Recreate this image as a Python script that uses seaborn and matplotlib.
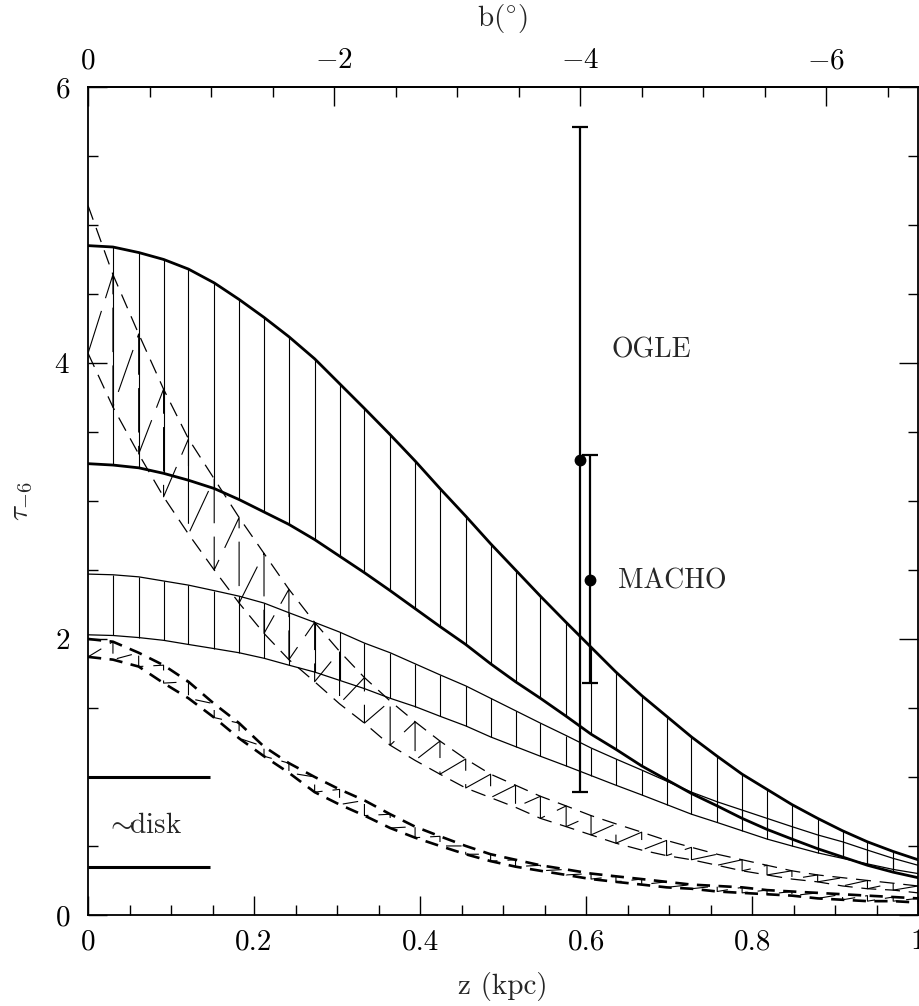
import numpy as np
import pandas as pd
import matplotlib
matplotlib.use("Agg")
import matplotlib.pyplot as plt
import seaborn as sns
from matplotlib.ticker import MultipleLocator, FixedLocator

# ---------------- data ----------------
z_grid = [0.000, 0.030, 0.061, 0.091, 0.121, 0.152, 0.182, 0.212, 0.242, 0.273,
          0.303, 0.333, 0.364, 0.394, 0.424, 0.455, 0.485, 0.515, 0.545, 0.576,
          0.606, 0.636, 0.667, 0.697, 0.727, 0.758, 0.788, 0.818, 0.848, 0.879,
          0.909, 0.939, 0.970, 1.000]

# thick solid band (upper / lower)
tau_thick_up = [4.85, 4.84, 4.80, 4.75, 4.68, 4.58, 4.46, 4.33, 4.19, 4.03,
                3.85, 3.67, 3.48, 3.29, 3.09, 2.89, 2.69, 2.50, 2.31, 2.12,
                1.94, 1.76, 1.59, 1.44, 1.29, 1.15, 1.02, 0.91, 0.80, 0.70,
                0.61, 0.53, 0.46, 0.40]
tau_thick_lo = [3.27, 3.26, 3.24, 3.20, 3.15, 3.09, 3.01, 2.92, 2.83, 2.72,
                2.60, 2.48, 2.35, 2.22, 2.09, 1.96, 1.82, 1.69, 1.57, 1.44,
                1.31, 1.20, 1.08, 0.98, 0.88, 0.79, 0.70, 0.62, 0.55, 0.48,
                0.42, 0.36, 0.31, 0.27]
# thin solid band
tau_thin_up = [2.47, 2.465, 2.45, 2.42, 2.39, 2.35, 2.31, 2.26, 2.19, 2.12,
               2.05, 1.97, 1.90, 1.82, 1.74, 1.66, 1.57, 1.48, 1.39, 1.30,
               1.21, 1.13, 1.05, 0.97, 0.89, 0.82, 0.76, 0.70, 0.64, 0.58,
               0.53, 0.47, 0.41, 0.36]
tau_thin_lo = [2.03, 2.025, 2.01, 1.99, 1.96, 1.93, 1.90, 1.86, 1.81, 1.76,
               1.70, 1.64, 1.57, 1.51, 1.44, 1.37, 1.29, 1.22, 1.15, 1.08,
               1.01, 0.94, 0.87, 0.80, 0.73, 0.67, 0.61, 0.55, 0.50, 0.45,
               0.41, 0.37, 0.33, 0.30]
# thin dashed band
tau_dash1_up = [5.14, 4.64, 4.21, 3.81, 3.45, 3.16, 2.88, 2.62, 2.36, 2.12,
                1.91, 1.72, 1.55, 1.40, 1.26, 1.13, 1.02, 0.94, 0.86, 0.79,
                0.72, 0.66, 0.60, 0.54, 0.49, 0.44, 0.40, 0.36, 0.32, 0.29,
                0.27, 0.25, 0.23, 0.21]
tau_dash1_lo = [4.07, 3.68, 3.34, 3.03, 2.76, 2.50, 2.26, 2.04, 1.85, 1.69,
                1.53, 1.39, 1.23, 1.12, 1.02, 0.92, 0.85, 0.78, 0.70, 0.64,
                0.58, 0.52, 0.47, 0.43, 0.40, 0.36, 0.32, 0.29, 0.26, 0.24,
                0.21, 0.19, 0.18, 0.16]
# thick dashed band
tau_dash2_up = [2.00, 1.98, 1.90, 1.81, 1.69, 1.53, 1.39, 1.22, 1.10, 1.00,
                0.91, 0.83, 0.73, 0.64, 0.57, 0.50, 0.44, 0.40, 0.36, 0.33,
                0.30, 0.28, 0.26, 0.24, 0.22, 0.21, 0.20, 0.18, 0.17, 0.16,
                0.15, 0.14, 0.13, 0.12]
tau_dash2_lo = [1.87, 1.85, 1.80, 1.68, 1.57, 1.43, 1.28, 1.15, 1.03, 0.89,
                0.80, 0.72, 0.63, 0.56, 0.50, 0.44, 0.39, 0.35, 0.32, 0.29,
                0.26, 0.24, 0.22, 0.20, 0.19, 0.17, 0.16, 0.15, 0.14, 0.12,
                0.11, 0.10, 0.10, 0.09]

# measurements
obs_names = ["OGLE", "MACHO"]
obs_z = [0.593, 0.605]
obs_tau = [3.30, 2.43]
obs_lo = [0.89, 1.68]
obs_hi = [5.71, 3.33]

# disk range markers
disk_levels = [1.0, 0.35]
disk_zmax = 0.147

kpc_per_deg = 0.1482

# ---------------- style ----------------
sns.set_style("ticks")
plt.rcParams.update({
    "font.family": ["cmr10", "DejaVu Serif"],
    "mathtext.fontset": "cm",
    "axes.formatter.use_mathtext": True,
    "axes.unicode_minus": True,
    "axes.linewidth": 1.3,
    "axes.edgecolor": "black",
    "xtick.color": "black",
    "ytick.color": "black",
})

fig = plt.figure(figsize=(9.19, 10.06), dpi=100)
ax = fig.add_axes([0.0958, 0.0905, 0.9032, 0.8231])

z = np.array(z_grid)

def tidy(name, vals):
    return pd.DataFrame({"z": z, "tau": vals, "curve": name})

# solid boundary curves
curves = pd.concat([
    tidy("thick_up", tau_thick_up), tidy("thick_lo", tau_thick_lo),
    tidy("thin_up", tau_thin_up), tidy("thin_lo", tau_thin_lo),
])
sns.lineplot(data=curves[curves.curve.str.startswith("thick")], x="z", y="tau",
             units="curve", estimator=None, sort=False, color="black",
             lw=2.0, ax=ax, legend=False)
sns.lineplot(data=curves[curves.curve.str.startswith("thin")], x="z", y="tau",
             units="curve", estimator=None, sort=False, color="black",
             lw=0.9, ax=ax, legend=False)

# vertical hatching of the solid bands
zi = z[1:-1]
ax.vlines(zi, np.array(tau_thick_lo)[1:-1], np.array(tau_thick_up)[1:-1],
          color="black", lw=0.8)
ax.vlines(zi, np.array(tau_thin_lo)[1:-1], np.array(tau_thin_up)[1:-1],
          color="black", lw=0.8)

# dashed bands: boundaries + sawtooth hatching
def sawtooth(lo, up):
    xs, ys = [], []
    for k in range(len(z)):
        if k > 0:
            xs.append(z[k]); ys.append(up[k])
        xs.append(z[k]); ys.append(lo[k])
    return xs, ys

d1 = (0, (12.0, 7.0))
for vals in (tau_dash1_up, tau_dash1_lo):
    ax.plot(z, vals, color="black", lw=0.9, ls=d1)
sx, sy = sawtooth(tau_dash1_lo, tau_dash1_up)
ax.plot(sx, sy, color="black", lw=0.8, ls=(0, (40.0, 12.0)))

d2 = (0, (5.0, 3.2))
for vals in (tau_dash2_up, tau_dash2_lo):
    ax.plot(z, vals, color="black", lw=1.9, ls=d2)
sx, sy = sawtooth(tau_dash2_lo, tau_dash2_up)
ax.plot(sx, sy, color="black", lw=0.8, ls=(0, (14.0, 9.0)))

# measurements with error bars
for zz, t, lo, hi in zip(obs_z, obs_tau, obs_lo, obs_hi):
    ax.errorbar([zz], [t], yerr=[[t - lo], [hi - t]], fmt="o", color="black",
                ms=7.5, elinewidth=1.6, capsize=6, capthick=1.6)
ax.text(0.631, 4.09, obs_names[0], fontsize=20, va="center", ha="left")
ax.text(0.639, 2.42, obs_names[1], fontsize=20, va="center", ha="left")

# disk markers
ax.hlines(disk_levels, 0, disk_zmax, color="black", lw=2.2)
ax.text(0.021, 0.645, r"${\sim}\!\!$disk", fontsize=21, va="center", ha="left")

# ---------------- axes ----------------
ax.set_xlim(0, 1)
ax.set_ylim(0, 6)
ax.xaxis.set_major_locator(MultipleLocator(0.2))
ax.xaxis.set_minor_locator(MultipleLocator(0.05))
ax.yaxis.set_major_locator(MultipleLocator(2))
ax.yaxis.set_minor_locator(MultipleLocator(0.5))
ax.tick_params(which="both", direction="in", top=False, right=True,
               labelsize=21, color="black")
ax.tick_params(which="major", length=14, width=1.0)
ax.tick_params(which="minor", length=7, width=1.0)
ax.tick_params(axis="x", pad=10)
ax.tick_params(axis="y", pad=13)
ax.xaxis.set_major_formatter(matplotlib.ticker.FuncFormatter(
    lambda v, p: "0" if abs(v) < 1e-9 else ("1" if abs(v - 1) < 1e-9 else f"{v:.1f}")))
ax.set_xlabel("z (kpc)", fontsize=21, labelpad=12)
ax.set_ylabel(r"$\tau_{-6}$", fontsize=21, labelpad=14)

sec = ax.secondary_xaxis("top", functions=(lambda zz: -zz / kpc_per_deg,
                                           lambda b: -b * kpc_per_deg))
sec.xaxis.set_major_locator(FixedLocator([0, -2, -4, -6]))
sec.xaxis.set_minor_locator(FixedLocator([-0.5 * i for i in range(1, 14)]))
sec.tick_params(which="both", direction="in", labelsize=21, color="black")
sec.tick_params(which="major", length=14, width=1.0, pad=9)
sec.tick_params(which="minor", length=7, width=1.0)
sec.xaxis.set_major_formatter(matplotlib.ticker.FuncFormatter(
    lambda v, p: "0" if abs(v) < 1e-9 else r"$-%d$" % round(-v)))
sec.set_xlabel(r"b($^{\circ}$)", fontsize=21, labelpad=16)
sec.spines["top"].set_linewidth(1.3)

fig.savefig("out.png", dpi=100)
